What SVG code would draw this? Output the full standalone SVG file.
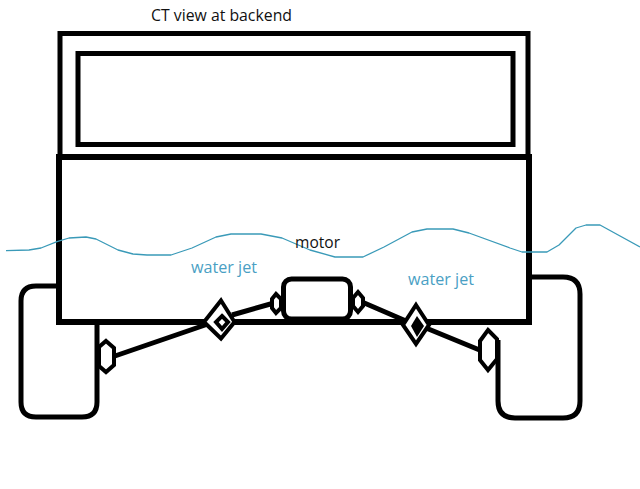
<svg xmlns="http://www.w3.org/2000/svg" width="640" height="489" viewBox="0 0 640 489">
<style>
.k{fill:none;stroke:#000;stroke-linejoin:miter}
.f{fill:#fff;stroke:#000;stroke-width:4}
text{font-family:"Open Sans","Noto Sans",sans-serif;font-size:15.500px}
.w{fill:#4a9fc4}
.b{fill:#111}
</style>
<rect width="640" height="489" fill="#fff"/>
<g id="cab">
<path class="k" stroke-width="5" d="M60 157V33.500H528V157"/>
<rect class="k" stroke-width="5" x="78" y="53.500" width="435" height="91"/>
</g>
<g id="body">
<path class="k" stroke-width="6" d="M59 157H529V322H59Z"/>
</g>
<g id="wheel-left"><path class="k" stroke-width="5" d="M59 286H36Q21 286 21 301V402Q21 417 36 417H82Q97 417 97 402V322"/></g>
<g id="wheel-right"><path class="k" stroke-width="5" d="M530 277H563Q580 277 580 294V401Q580 418 563 418H515Q498 418 498 401V340"/></g>
<g id="motor"><rect class="k" stroke-width="5" x="283.500" y="279" width="67" height="40" rx="8"/></g>
<g id="connectors">
<path class="k" stroke-width="5" d="M112 357L208 324M232 315L274 303M362 302L406 321M426 328L482 351"/>
</g>
<g id="joint-left">
<path class="f" d="M106 341L114 348V365L106 372L99 366V347Z"/>
<path class="f" d="M276 294L281 299V308L276 313L272 308V299Z"/>
<path class="f" d="M221 300.500L234.500 322L221 338.500L204 322Z"/>
<path class="f" d="M222 316L228 322L222 329L216 322Z"/>
</g>
<g id="joint-right">
<path class="f" d="M358 292L363 298V306L358 312L353 306V298Z"/>
<path class="f" d="M416 305L429 325L416 344L403 325Z"/>
<path d="M417 316L424 326L417 337L411 326Z" fill="#000"/>
<path class="f" d="M488 330L497 339V359L488 370L480 360V341Z"/>
</g>
<g id="water">
<path fill="none" stroke="#3a9ab8" stroke-width="1.300" stroke-linejoin="round" d="M6 250.700L29 250L41 248L57 241.700L69 238L86 237L96 239L118 250L133 254L147 255L171 255L192 248L216 237L231 234L261 234L282 238L310 250L335 257L363 257L384 247L412 232L427 229L453 229L469 233L510 248L522 252L547 252L559 245L576 228L586 225L600 225L640 247"/>
</g>
<g id="labels">
<text class="b" x="151" y="21" textLength="141" lengthAdjust="spacingAndGlyphs">CT view at backend</text>
<text class="b" x="295" y="248" textLength="45" lengthAdjust="spacingAndGlyphs">motor</text>
<text class="w" x="191" y="273" textLength="66" lengthAdjust="spacingAndGlyphs">water jet</text>
<text class="w" x="408" y="285" textLength="66" lengthAdjust="spacingAndGlyphs">water jet</text>
</g>
</svg>
